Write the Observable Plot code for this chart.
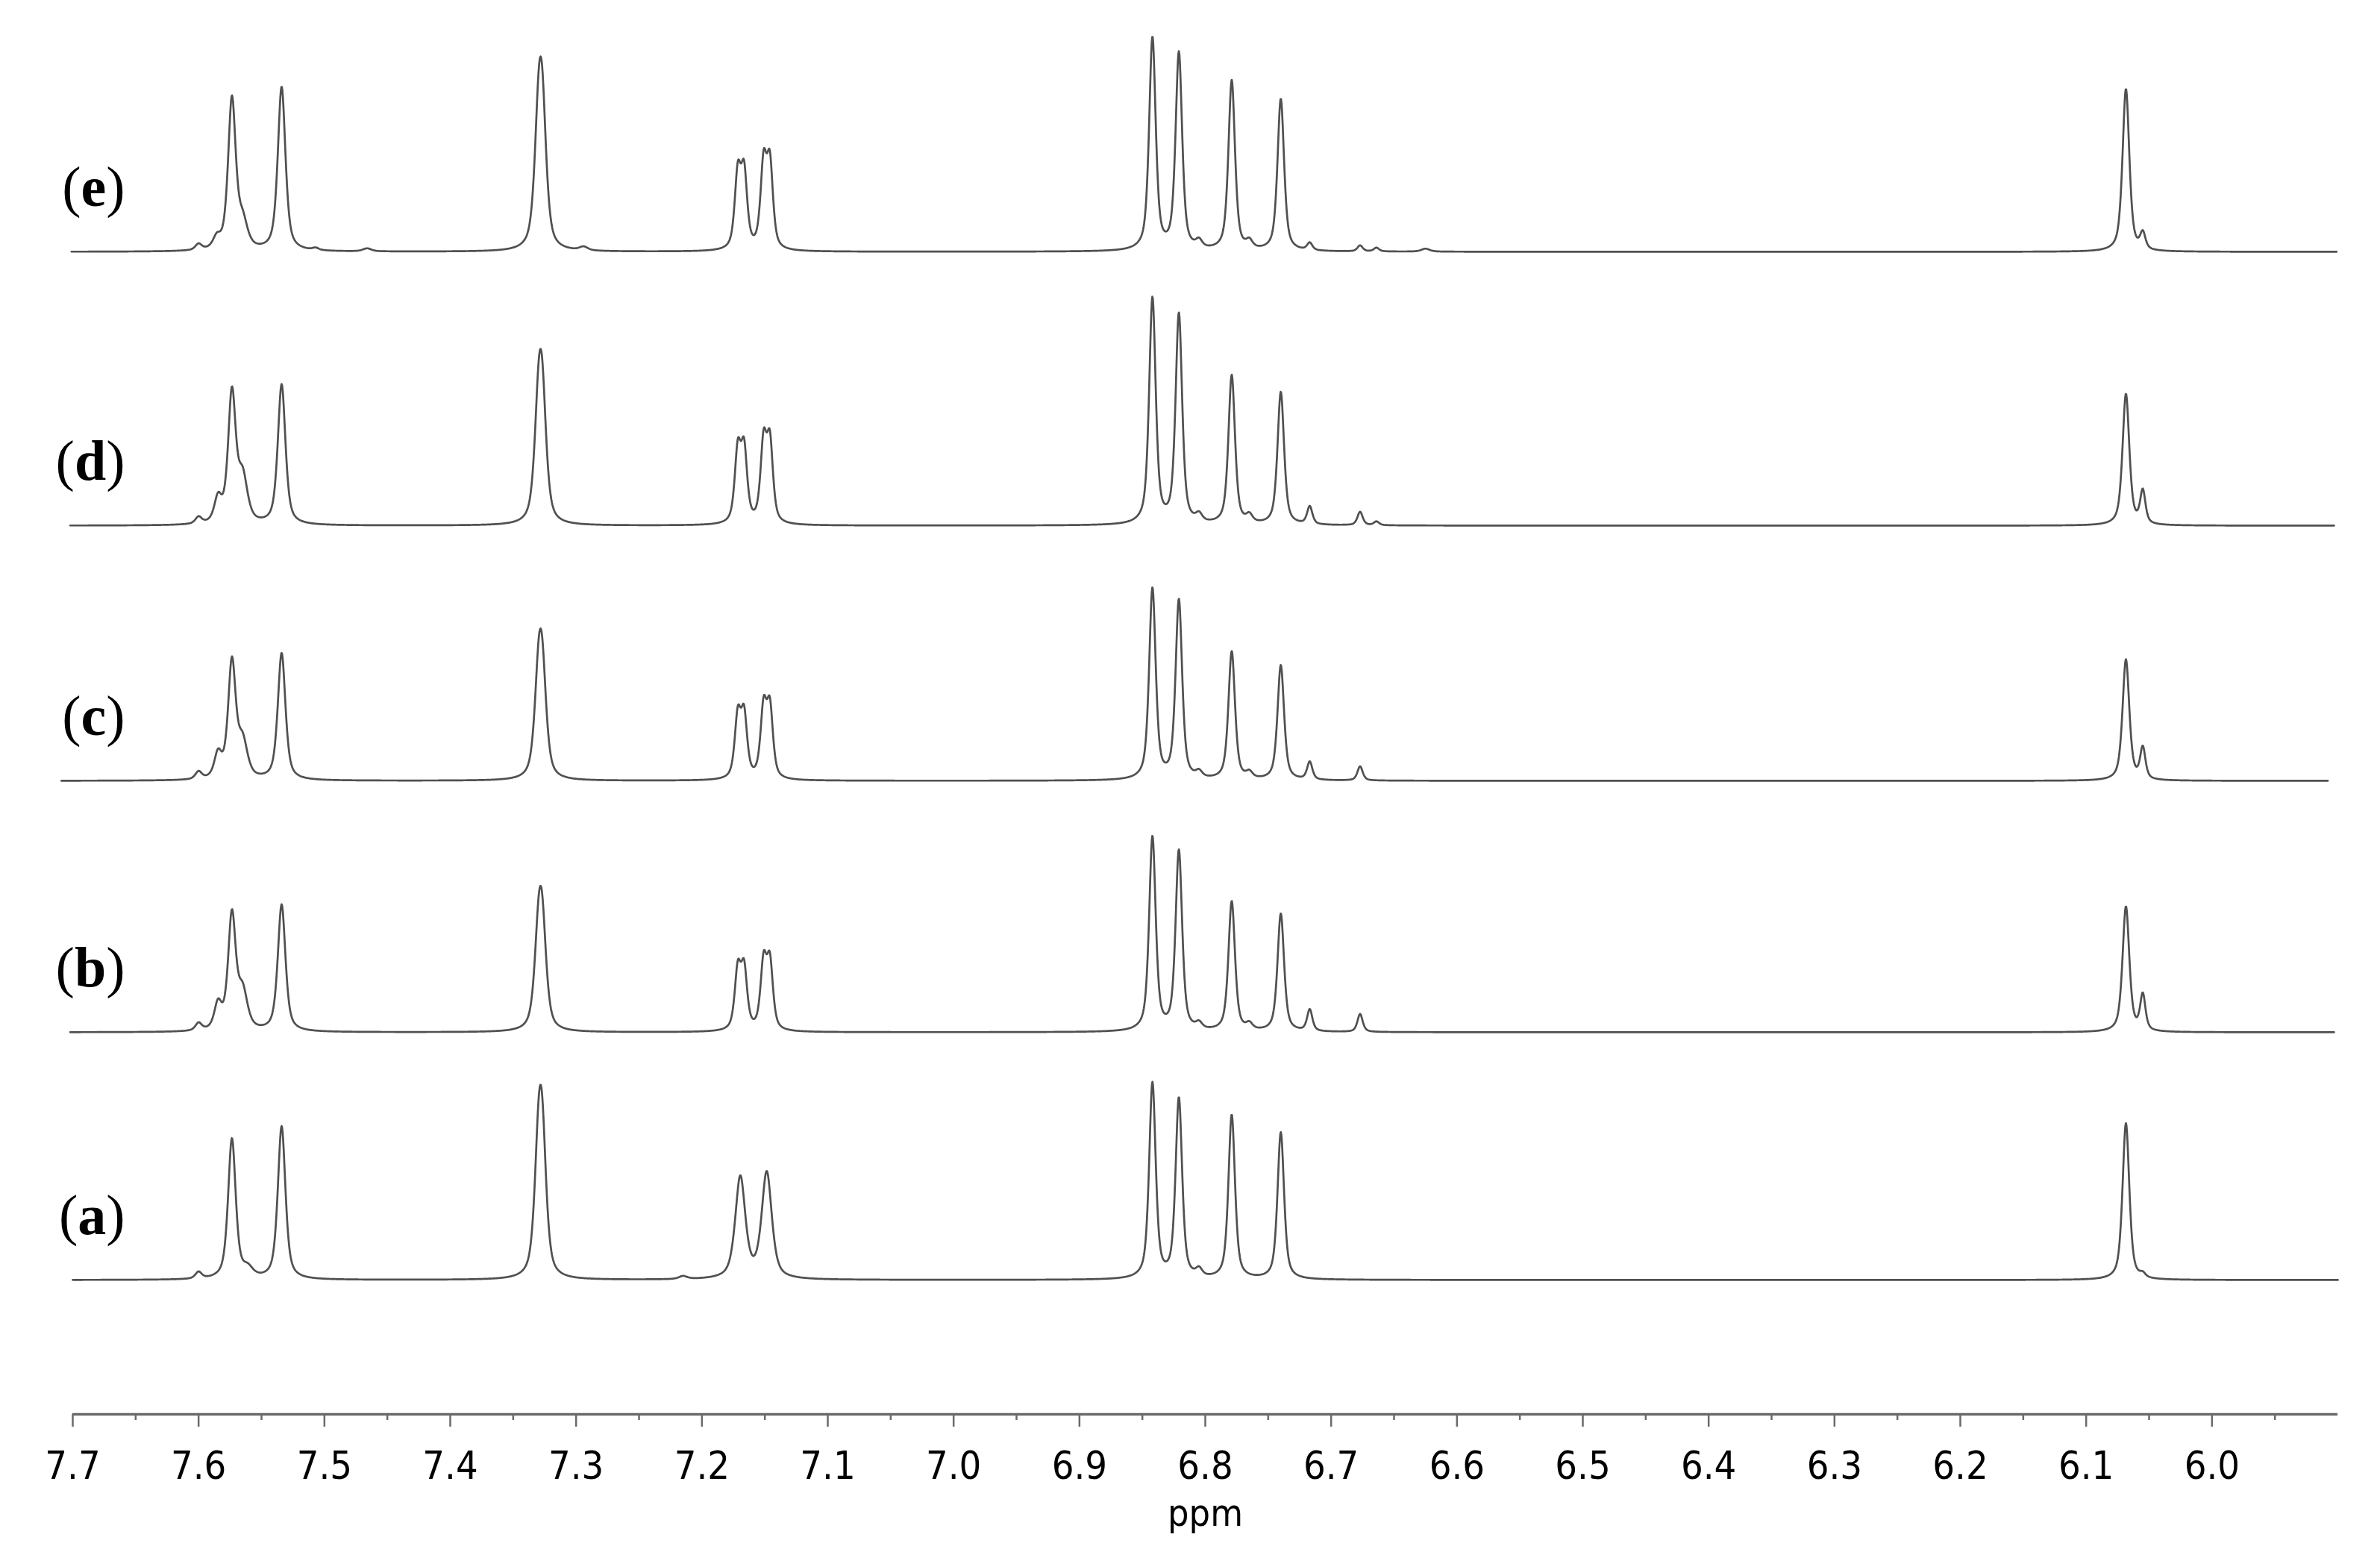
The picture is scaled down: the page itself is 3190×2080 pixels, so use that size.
<!DOCTYPE html>
<html>
<head>
<meta charset="utf-8">
<script src="https://cdn.jsdelivr.net/npm/d3@7"></script>
<script src="https://cdn.jsdelivr.net/npm/@observablehq/plot@0.6"></script>
<style>
  html, body { margin: 0; padding: 0; background: #fff; }
  #chart svg { display: block; }
</style>
</head>
<body>
<div id="chart"></div>
<script>
// ---------- DATA ----------
// trace names, bottom to top
const traceNames = ["a", "b", "c", "d", "e"];
// vertical offset of each trace's baseline (intensity units)
const traceOffsets = [180, 512, 849, 1191, 1558];
// ppm range covered by each trace
const traceStart = [7.700, 7.702, 7.709, 7.702, 7.701];
const traceEnd   = [5.900, 5.903, 5.908, 5.903, 5.901];

// peak lists: [chemical shift (ppm), peak intensity, line width (ppm)]
const peaksA = [
  [7.600, 9, 0.006], [7.5735, 188, 0.0072], [7.561, 12, 0.010], [7.534, 205, 0.0072],
  [7.3298, 146, 0.0078], [7.3268, 150, 0.0078], [7.215, 4, 0.008],
  [7.1695, 136, 0.0095], [7.1485, 142, 0.0095],
  [6.842, 262, 0.0062], [6.821, 241, 0.0062], [6.805, 10, 0.006], [6.779, 220, 0.0062], [6.740, 197, 0.0062],
  [6.0684, 210, 0.0064], [6.055, 5, 0.005]
];
const peaksB = [
  [7.600, 10, 0.006], [7.5845, 34, 0.007], [7.5735, 154, 0.0072], [7.565, 50, 0.009], [7.534, 170, 0.0072],
  [7.3298, 109, 0.0078], [7.3268, 113, 0.0078],
  [7.1715, 79, 0.0058], [7.1665, 79, 0.0058], [7.1510, 88, 0.0058], [7.1460, 88, 0.0058],
  [6.842, 260, 0.0062], [6.821, 241, 0.0062], [6.805, 8, 0.006], [6.779, 174, 0.0062], [6.765, 8, 0.006], [6.740, 158, 0.0062],
  [6.717, 29, 0.005], [6.677, 24, 0.005],
  [6.0684, 168, 0.0064], [6.055, 48, 0.005]
];
const peaksC = [
  [7.600, 10, 0.006], [7.5845, 32, 0.007], [7.5735, 156, 0.0072], [7.565, 48, 0.009], [7.534, 170, 0.0072],
  [7.3298, 114, 0.0078], [7.3268, 117, 0.0078],
  [7.1715, 82, 0.0058], [7.1665, 82, 0.0058], [7.1510, 92, 0.0058], [7.1460, 92, 0.0058],
  [6.842, 256, 0.0062], [6.821, 240, 0.0062], [6.805, 8, 0.006], [6.779, 172, 0.0062], [6.765, 8, 0.006], [6.740, 154, 0.0062],
  [6.717, 24, 0.005], [6.677, 19, 0.005],
  [6.0684, 162, 0.0064], [6.055, 42, 0.005]
];
const peaksD = [
  [7.600, 9, 0.006], [7.5845, 32, 0.007], [7.5735, 174, 0.0072], [7.565, 60, 0.009], [7.534, 188, 0.0072],
  [7.3298, 132, 0.0078], [7.3268, 136, 0.0078],
  [7.1715, 95, 0.0058], [7.1665, 95, 0.0058], [7.1510, 105, 0.0058], [7.1460, 105, 0.0058],
  [6.842, 303, 0.0062], [6.821, 281, 0.0062], [6.805, 10, 0.006], [6.779, 200, 0.0062], [6.765, 10, 0.006], [6.740, 178, 0.0062],
  [6.717, 24, 0.005], [6.677, 18, 0.005], [6.664, 5, 0.005],
  [6.0684, 176, 0.0064], [6.055, 44, 0.005]
];
const peaksE = [
  [7.600, 8, 0.006], [7.5855, 14, 0.007], [7.5735, 202, 0.0072], [7.565, 35, 0.009], [7.534, 220, 0.0072],
  [7.507, 3, 0.006], [7.466, 4, 0.008],
  [7.3298, 144, 0.0078], [7.3268, 152, 0.0078], [7.294, 5, 0.008],
  [7.1715, 99, 0.0058], [7.1665, 99, 0.0058], [7.1510, 111, 0.0058], [7.1460, 111, 0.0058],
  [6.842, 285, 0.0062], [6.821, 264, 0.0062], [6.805, 10, 0.006], [6.779, 228, 0.0062], [6.765, 10, 0.006], [6.740, 204, 0.0062],
  [6.717, 10, 0.005], [6.677, 8, 0.005], [6.664, 5, 0.005], [6.625, 4, 0.008],
  [6.0684, 218, 0.0064], [6.055, 22, 0.005]
];
const tracePeaks = [peaksA, peaksB, peaksC, peaksD, peaksE];

// axis ticks (ppm)
const majorTicks = [7.7, 7.6, 7.5, 7.4, 7.3, 7.2, 7.1, 7.0, 6.9, 6.8, 6.7, 6.6, 6.5, 6.4, 6.3, 6.2, 6.1, 6.0];
const minorTicks = [7.65, 7.55, 7.45, 7.35, 7.25, 7.15, 7.05, 6.95, 6.85, 6.75, 6.65, 6.55, 6.45, 6.35, 6.25, 6.15, 6.05, 5.95];
const axisTitle = "ppm";

// ---------- LINE SHAPE (pseudo-Voigt peak rendering) ----------
const ETA = 0.6;
function peakShape(x, [c, h, w]) {
  const u = 2 * (x - c) / w;
  const lor = 1 / (1 + u * u);
  const gau = Math.exp(-Math.LN2 * u * u);
  return h * (ETA * lor + (1 - ETA) * gau);
}
const spectrum = [];
traceNames.forEach((name, i) => {
  const n = Math.round((traceStart[i] - traceEnd[i]) / 0.0004);
  for (let k = 0; k <= n; k++) {
    const ppm = traceStart[i] - k * (traceStart[i] - traceEnd[i]) / n;
    let s = 0;
    for (const p of tracePeaks[i]) s += peakShape(ppm, p);
    spectrum.push({trace: name, ppm, y: traceOffsets[i] + s});
  }
});

// ---------- PLOT ----------
const sansFont = "'DejaVu Sans Condensed', 'DejaVu Sans', sans-serif";
const serifFont = "'Liberation Serif', 'DejaVu Serif', serif";
const labelRise = 62;

const chart = Plot.plot({
  width: 3190,
  height: 2080,
  marginLeft: 97,
  marginRight: 57,
  marginTop: 0,
  marginBottom: 185,
  x: {domain: [7.7, 5.9], label: null},
  y: {domain: [0, 1895], axis: null},
  style: {background: "#fff", color: "#000"},
  marks: [
    Plot.line(spectrum, {x: "ppm", y: "y", z: "trace", stroke: "#505050", strokeWidth: 2.7, curve: "linear"}),
    Plot.ruleY([0], {stroke: "#6a6a6a", strokeWidth: 3.5}),
    Plot.axisX(minorTicks, {tickSize: 8, fill: "none", stroke: "#6a6a6a", strokeWidth: 2.5, label: null}),
    Plot.axisX(majorTicks, {
      tickSize: 17, tickPadding: 33, tickFormat: d => d.toFixed(1),
      fontSize: 52, fontFamily: sansFont, stroke: "#6a6a6a", strokeWidth: 2.5, fill: "#000", label: null
    }),
    Plot.text([axisTitle], {frameAnchor: "bottom", dy: 149, lineAnchor: "bottom", fontSize: 50, fontFamily: sansFont, fill: "#000"}),
    Plot.text(traceNames, {
      frameAnchor: "left",
      y: (d, i) => traceOffsets[i] + labelRise,
      text: d => `(${d})`,
      textAnchor: "end",
      lineAnchor: "bottom",
      dx: 70,
      fontSize: 76,
      fontFamily: serifFont,
      fill: "#000",
      className: "trace-label"
    })
  ]
});

// bold letter inside regular parentheses
d3.select(chart).selectAll(".trace-label text").each(function () {
  const t = this.textContent;
  const letter = t.slice(1, -1);
  this.textContent = "";
  const sel = d3.select(this);
  sel.append("tspan").text("(");
  sel.append("tspan").attr("font-weight", "bold").text(letter);
  sel.append("tspan").text(")");
});

document.getElementById("chart").appendChild(chart);
</script>
</body>
</html>
